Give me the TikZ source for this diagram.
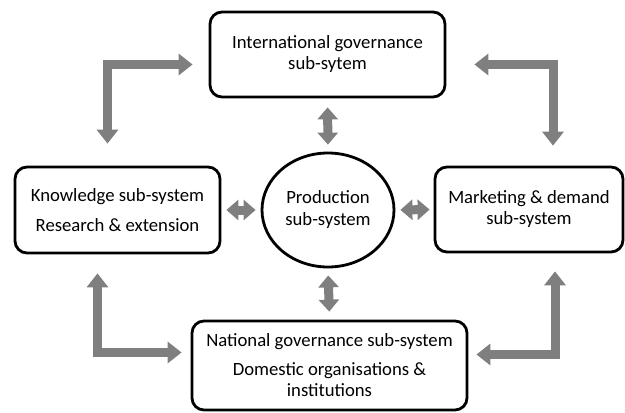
\documentclass[tikz,border=0pt]{standalone}
\usepackage{fontspec}
\setmainfont{Carlito}
\usetikzlibrary{arrows.meta,shapes.geometric}
\definecolor{arrowgray}{HTML}{7F7F7F}

\begin{document}
\begin{tikzpicture}[x=1pt,y=-1pt,
    sub/.style={draw, line width=2.8pt, rounded corners=12pt, align=center,
      font=\fontsize{18.7}{21}\selectfont, inner sep=0pt},
    loop/.style={draw=arrowgray, line width=9pt,
      {Triangle[width=21pt,length=14pt]}-{Triangle[width=21pt,length=14pt]}},
    link/.style={draw=arrowgray, line width=9pt,
      {Triangle[width=20pt,length=12pt]}-{Triangle[width=20pt,length=12pt]}}]
    \useasboundingbox (0,0) rectangle (625,413);

    % Sub-systems
    \node[sub, minimum width=235pt, minimum height=85pt] (intl) at (327.5,54.5)
      {International governance\\sub-sytem};
    \node[sub, minimum width=205pt, minimum height=86pt] (know) at (117.5,210)
      {Knowledge sub-system\\[9pt]Research \& extension};
    \node[sub, minimum width=188pt, minimum height=85pt] (mkt) at (529,209.5)
      {Marketing \& demand\\sub-system};
    \node[sub, minimum width=275pt, minimum height=89pt] (natl) at (329.5,365.5)
      {National governance sub-system\\[8pt]Domestic organisations \&\\institutions};
    \node[draw, ellipse, line width=2.8pt, minimum width=132pt, minimum height=114pt,
      align=center, font=\fontsize{18.7}{22}\selectfont, inner sep=0pt] (prod) at (328,210)
      {Production\\sub-system};

    % Outer loop ends
    \coordinate (kn) at ([xshift=-10pt,yshift=22pt]know.north);
    \coordinate (iw) at ([xshift=-16pt,yshift=-10pt]intl.west);
    \coordinate (mn) at ([xshift=24pt,yshift=20pt]mkt.north);
    \coordinate (ie) at ([xshift=28pt,yshift=-10pt]intl.east);
    \coordinate (ks) at ([xshift=-20pt,yshift=-19pt]know.south);
    \coordinate (nw) at ([xshift=-9pt,yshift=13pt]natl.west);
    \coordinate (ms) at ([xshift=26pt,yshift=-18pt]mkt.south);
    \coordinate (ne) at ([xshift=8pt,yshift=11pt]natl.east);

    % Outer loop
    \draw[loop] (kn) |- (iw);
    \draw[loop] (mn) |- (ie);
    \draw[loop] (ks) |- (nw);
    \draw[loop] (ms) |- (ne);

    % Links to production
    \draw[link, shorten <=9pt, shorten >=7pt] (intl.south) -- (prod.north);
    \draw[link, shorten <=7pt, shorten >=8pt] (prod.south) -- (natl.north);
    \draw[link, shorten <=5pt, shorten >=5pt] (know.east) -- (prod.west);
    \draw[link, shorten <=5pt, shorten >=4pt] (prod.east) -- (mkt.west);
\end{tikzpicture}
\end{document}
